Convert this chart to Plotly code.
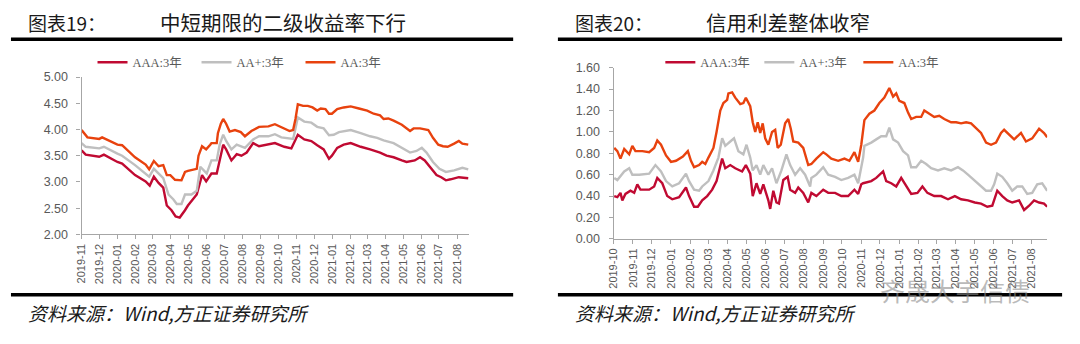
import plotly.graph_objects as go

# ---------------- Left panel: yields (%) ----------------
l_aaa_dates = ["2019-11-01","2019-11-08","2019-12-01","2019-12-09","2020-01-01","2020-01-09","2020-01-31","2020-02-18","2020-02-25","2020-03-03","2020-03-11","2020-03-19","2020-03-25","2020-04-02","2020-04-09","2020-04-16","2020-04-25","2020-04-30","2020-05-15","2020-05-24","2020-05-31","2020-06-09","2020-06-18","2020-06-23","2020-06-29","2020-07-04","2020-07-13","2020-07-22","2020-07-30","2020-08-08","2020-08-19","2020-08-29","2020-09-14","2020-09-25","2020-10-11","2020-10-23","2020-10-29","2020-11-03","2020-11-14","2020-11-26","2020-12-06","2020-12-17","2020-12-26","2020-12-31","2021-01-09","2021-01-20","2021-02-01","2021-02-18","2021-03-06","2021-03-23","2021-04-03","2021-04-15","2021-04-29","2021-05-07","2021-05-21","2021-05-30","2021-06-07","2021-06-16","2021-06-27","2021-07-05","2021-07-13","2021-07-21","2021-08-04","2021-08-20"]
l_aaa_vals = [3.60,3.52,3.48,3.52,3.38,3.35,3.13,3.01,2.93,3.10,2.98,2.89,2.55,2.46,2.34,2.32,2.46,2.55,2.76,3.13,3.01,3.16,3.16,3.44,3.71,3.62,3.41,3.53,3.50,3.56,3.74,3.68,3.71,3.74,3.67,3.64,3.78,3.90,3.81,3.78,3.70,3.62,3.44,3.50,3.65,3.71,3.74,3.67,3.62,3.56,3.50,3.47,3.41,3.38,3.41,3.47,3.41,3.29,3.13,3.09,3.03,3.05,3.09,3.07]

l_aap_dates = ["2019-11-01","2019-11-08","2019-12-01","2019-12-09","2020-01-01","2020-01-09","2020-01-31","2020-02-24","2020-03-03","2020-03-11","2020-03-19","2020-03-28","2020-04-05","2020-04-11","2020-04-19","2020-04-25","2020-05-06","2020-05-15","2020-05-21","2020-05-27","2020-06-01","2020-06-09","2020-06-18","2020-06-23","2020-06-29","2020-07-04","2020-07-13","2020-07-22","2020-07-30","2020-08-05","2020-08-19","2020-08-29","2020-09-14","2020-09-25","2020-10-06","2020-10-17","2020-10-26","2020-10-30","2020-11-03","2020-11-14","2020-11-26","2020-12-06","2020-12-17","2020-12-26","2021-01-03","2021-01-12","2021-02-01","2021-02-18","2021-03-06","2021-03-18","2021-03-29","2021-04-15","2021-04-29","2021-05-13","2021-05-24","2021-06-02","2021-06-10","2021-06-21","2021-07-02","2021-07-13","2021-07-27","2021-08-10","2021-08-20"]
l_aap_vals = [3.74,3.67,3.64,3.67,3.54,3.50,3.32,3.10,3.25,3.16,3.07,2.76,2.67,2.58,2.58,2.76,2.76,2.83,3.29,3.22,3.16,3.41,3.41,3.71,3.90,3.78,3.62,3.71,3.68,3.65,3.81,3.87,3.87,3.91,3.85,3.84,3.82,4.02,4.23,4.15,4.13,4.05,4.02,3.89,3.90,3.95,3.99,3.93,3.87,3.84,3.79,3.74,3.65,3.56,3.59,3.65,3.56,3.38,3.25,3.19,3.22,3.27,3.24]

l_aa_dates = ["2019-11-01","2019-11-11","2019-12-01","2019-12-06","2020-01-01","2020-01-09","2020-01-31","2020-02-18","2020-02-24","2020-03-03","2020-03-11","2020-03-19","2020-03-25","2020-03-31","2020-04-08","2020-04-19","2020-04-25","2020-04-30","2020-05-15","2020-05-18","2020-05-24","2020-05-31","2020-06-07","2020-06-09","2020-06-18","2020-06-20","2020-06-25","2020-06-29","2020-07-04","2020-07-10","2020-07-19","2020-07-29","2020-08-05","2020-08-16","2020-08-29","2020-09-14","2020-09-25","2020-10-11","2020-10-20","2020-10-26","2020-10-30","2020-11-03","2020-11-12","2020-11-20","2020-11-28","2020-12-06","2020-12-12","2020-12-20","2020-12-26","2020-12-31","2021-01-09","2021-01-20","2021-02-01","2021-02-15","2021-03-01","2021-03-12","2021-03-23","2021-03-29","2021-04-06","2021-04-15","2021-04-29","2021-05-13","2021-05-19","2021-05-30","2021-06-13","2021-06-21","2021-06-30","2021-07-08","2021-07-16","2021-07-27","2021-08-04","2021-08-10","2021-08-20"]
l_aa_vals = [3.99,3.85,3.82,3.85,3.71,3.70,3.47,3.33,3.24,3.40,3.30,3.32,3.13,3.13,3.04,3.03,3.19,3.21,3.25,3.50,3.68,3.62,3.71,3.74,3.74,3.93,4.11,4.20,4.11,3.96,3.99,3.95,3.87,3.97,4.05,4.06,4.10,4.02,3.97,3.99,4.20,4.48,4.45,4.45,4.42,4.36,4.40,4.39,4.30,4.30,4.39,4.42,4.44,4.40,4.36,4.30,4.27,4.20,4.21,4.17,4.09,3.97,4.02,4.02,3.99,3.84,3.71,3.68,3.67,3.73,3.78,3.73,3.71]

# ---------------- Right panel: credit spreads (%) ----------------
r_aaa_dates = ["2019-10-02","2019-10-07","2019-10-12","2019-10-15","2019-10-20","2019-10-28","2019-11-03","2019-11-08","2019-11-13","2019-11-27","2019-12-05","2019-12-10","2019-12-18","2019-12-26","2020-01-03","2020-01-14","2020-01-25","2020-01-30","2020-02-07","2020-02-13","2020-02-20","2020-02-28","2020-03-07","2020-03-14","2020-03-23","2020-03-28","2020-04-05","2020-04-13","2020-04-24","2020-04-30","2020-05-07","2020-05-11","2020-05-17","2020-05-23","2020-05-28","2020-06-05","2020-06-08","2020-06-13","2020-06-18","2020-06-22","2020-06-29","2020-07-06","2020-07-10","2020-07-18","2020-07-23","2020-07-31","2020-08-08","2020-08-13","2020-08-21","2020-09-01","2020-09-09","2020-09-20","2020-09-30","2020-10-11","2020-10-21","2020-10-27","2020-11-01","2020-11-04","2020-11-17","2020-11-25","2020-12-06","2020-12-11","2020-12-19","2020-12-27","2021-01-04","2021-01-12","2021-01-20","2021-01-30","2021-02-07","2021-02-15","2021-02-26","2021-03-09","2021-03-20","2021-03-31","2021-04-10","2021-04-21","2021-05-02","2021-05-12","2021-05-22","2021-05-30","2021-06-07","2021-06-15","2021-06-23","2021-07-01","2021-07-12","2021-07-20","2021-07-28","2021-08-05","2021-08-13","2021-08-21","2021-08-26"]
r_aaa_vals = [0.40,0.39,0.43,0.36,0.42,0.45,0.43,0.51,0.46,0.46,0.49,0.57,0.52,0.40,0.37,0.39,0.48,0.40,0.30,0.30,0.36,0.40,0.46,0.54,0.75,0.66,0.69,0.66,0.63,0.69,0.61,0.40,0.52,0.42,0.51,0.36,0.28,0.45,0.34,0.33,0.55,0.58,0.46,0.43,0.48,0.43,0.34,0.43,0.40,0.46,0.43,0.43,0.40,0.40,0.46,0.42,0.51,0.52,0.54,0.57,0.63,0.54,0.52,0.49,0.57,0.49,0.42,0.43,0.49,0.43,0.40,0.40,0.37,0.40,0.37,0.36,0.34,0.33,0.30,0.31,0.45,0.40,0.36,0.34,0.36,0.27,0.31,0.36,0.34,0.33,0.30]

r_aap_dates = ["2019-10-02","2019-10-07","2019-10-18","2019-10-26","2019-10-31","2019-11-11","2019-11-27","2019-12-07","2019-12-16","2019-12-24","2020-01-03","2020-01-14","2020-01-25","2020-01-30","2020-02-07","2020-02-15","2020-02-20","2020-03-01","2020-03-09","2020-03-17","2020-03-23","2020-03-28","2020-04-05","2020-04-11","2020-04-18","2020-04-26","2020-05-01","2020-05-07","2020-05-11","2020-05-17","2020-05-23","2020-05-28","2020-06-05","2020-06-11","2020-06-18","2020-06-26","2020-07-04","2020-07-10","2020-07-18","2020-07-26","2020-08-03","2020-08-11","2020-08-13","2020-08-21","2020-09-01","2020-09-09","2020-09-20","2020-09-30","2020-10-11","2020-10-21","2020-10-27","2020-11-04","2020-11-06","2020-11-17","2020-11-25","2020-12-03","2020-12-11","2020-12-16","2020-12-22","2020-12-30","2021-01-07","2021-01-15","2021-01-20","2021-01-28","2021-02-05","2021-02-13","2021-02-21","2021-03-04","2021-03-14","2021-03-25","2021-04-05","2021-04-13","2021-04-21","2021-05-02","2021-05-12","2021-05-20","2021-05-28","2021-06-02","2021-06-07","2021-06-15","2021-06-23","2021-07-01","2021-07-09","2021-07-17","2021-07-25","2021-08-02","2021-08-10","2021-08-18","2021-08-26"]
r_aap_vals = [0.57,0.55,0.63,0.66,0.60,0.60,0.61,0.69,0.63,0.54,0.49,0.52,0.61,0.54,0.46,0.45,0.49,0.54,0.64,0.76,0.94,0.87,0.91,0.94,0.82,0.79,0.88,0.76,0.64,0.69,0.60,0.69,0.60,0.66,0.52,0.64,0.79,0.69,0.60,0.66,0.60,0.49,0.57,0.60,0.67,0.60,0.58,0.55,0.57,0.60,0.52,0.76,0.87,0.90,0.93,0.96,0.96,1.04,0.93,0.90,0.82,0.78,0.67,0.67,0.73,0.70,0.66,0.64,0.66,0.64,0.67,0.64,0.60,0.54,0.49,0.45,0.45,0.51,0.61,0.58,0.52,0.45,0.49,0.49,0.42,0.43,0.51,0.52,0.45]

r_aa_dates = ["2019-10-02","2019-10-07","2019-10-12","2019-10-18","2019-10-26","2019-10-31","2019-11-05","2019-11-16","2019-11-27","2019-12-05","2019-12-10","2019-12-16","2019-12-24","2020-01-01","2020-01-09","2020-01-20","2020-01-28","2020-02-02","2020-02-07","2020-02-15","2020-02-20","2020-02-25","2020-03-01","2020-03-09","2020-03-14","2020-03-20","2020-03-25","2020-03-31","2020-04-02","2020-04-08","2020-04-13","2020-04-21","2020-04-26","2020-04-30","2020-05-07","2020-05-11","2020-05-15","2020-05-19","2020-05-23","2020-05-27","2020-05-31","2020-06-05","2020-06-11","2020-06-16","2020-06-20","2020-06-25","2020-07-02","2020-07-07","2020-07-11","2020-07-15","2020-07-23","2020-07-31","2020-08-08","2020-08-13","2020-08-21","2020-09-01","2020-09-06","2020-09-14","2020-09-25","2020-10-05","2020-10-13","2020-10-21","2020-10-27","2020-11-01","2020-11-06","2020-11-14","2020-11-22","2020-11-30","2020-12-08","2020-12-16","2020-12-22","2020-12-27","2021-01-01","2021-01-09","2021-01-15","2021-01-20","2021-01-28","2021-02-05","2021-02-10","2021-02-18","2021-02-26","2021-03-06","2021-03-14","2021-03-25","2021-04-02","2021-04-10","2021-04-18","2021-04-26","2021-05-04","2021-05-12","2021-05-20","2021-05-28","2021-06-05","2021-06-13","2021-06-18","2021-06-26","2021-07-04","2021-07-15","2021-07-23","2021-08-02","2021-08-13","2021-08-21","2021-08-26"]
r_aa_vals = [0.85,0.82,0.75,0.84,0.79,0.87,0.82,0.82,0.81,0.85,0.92,0.88,0.78,0.72,0.73,0.77,0.82,0.73,0.67,0.69,0.72,0.70,0.76,0.85,1.00,1.20,1.27,1.30,1.36,1.37,1.32,1.26,1.27,1.32,1.24,1.09,1.00,1.09,0.99,1.08,0.94,0.88,1.00,1.02,0.85,0.88,1.08,1.12,1.03,0.91,0.90,0.85,0.69,0.70,0.75,0.81,0.79,0.75,0.73,0.75,0.73,0.81,0.72,0.88,1.11,1.17,1.20,1.27,1.32,1.41,1.33,1.36,1.29,1.27,1.18,1.12,1.14,1.14,1.20,1.17,1.14,1.15,1.12,1.09,1.09,1.08,1.09,1.08,1.03,0.99,0.90,0.88,0.90,0.99,1.02,0.97,0.93,0.99,0.91,0.94,1.03,0.99,0.95]

series_names = ["AAA:3年", "AA+:3年", "AA:3年"]
colors = ["#C00A32", "#BFBFBF", "#E8420E"]

left_title_no = "图表19："
left_title = "中短期限的二级收益率下行"
right_title_no = "图表20："
right_title = "信用利差整体收窄"
source_text = "资料来源：Wind,方正证券研究所"

left_ticks = ["2019-11","2019-12","2020-01","2020-02","2020-03","2020-04","2020-05","2020-06","2020-07","2020-08","2020-09","2020-10","2020-11","2020-12","2021-01","2021-02","2021-03","2021-04","2021-05","2021-06","2021-07","2021-08"]
right_ticks = ["2019-10"] + left_ticks

W, H = 1080, 344
fig = go.Figure()

left_data = [(l_aaa_dates, l_aaa_vals), (l_aap_dates, l_aap_vals), (l_aa_dates, l_aa_vals)]
right_data = [(r_aaa_dates, r_aaa_vals), (r_aap_dates, r_aap_vals), (r_aa_dates, r_aa_vals)]

for (d, v), name, c in zip(left_data, series_names, colors):
    fig.add_trace(go.Scatter(x=d, y=v, name=name, mode="lines",
                             line=dict(color=c, width=2.4), xaxis="x", yaxis="y", legend="legend"))
for (d, v), name, c in zip(right_data, series_names, colors):
    fig.add_trace(go.Scatter(x=d, y=v, name=name, mode="lines",
                             line=dict(color=c, width=2.4), xaxis="x2", yaxis="y2", legend="legend2"))

axis_col = "#A6A6A6"
tick_font = dict(family="Liberation Sans, Arial", size=12.5, color="#595959")
xtick_font = dict(family="Liberation Sans, Arial", size=11, color="#595959")

def px_x(p):
    return p / W

def px_y(p):
    return 1 - p / H

common_x = dict(type="date", showgrid=False, zeroline=False, showline=True, linecolor=axis_col,
                linewidth=1.2, ticks="outside", ticklen=4, tickcolor=axis_col, tickangle=-90,
                tickfont=xtick_font, tickformat="%Y-%m", fixedrange=True)
common_y = dict(showgrid=False, zeroline=False, showline=True, linecolor=axis_col, linewidth=1.2,
                ticks="outside", ticklen=4, tickcolor=axis_col, tickfont=tick_font,
                tickformat=".2f", fixedrange=True, ticklabelstandoff=6)

legend_font = dict(family="Liberation Serif, Times New Roman, Noto Sans CJK SC", size=12.5, color="#595959")

fig.update_layout(
    width=W, height=H,
    margin=dict(l=0, r=0, t=0, b=0),
    paper_bgcolor="white", plot_bgcolor="white",
    xaxis=dict(common_x, domain=[px_x(76), px_x(466)], range=["2019-11-01", "2021-08-22"],
               tickvals=[t + "-01" for t in left_ticks], ticktext=left_ticks, anchor="y"),
    yaxis=dict(common_y, domain=[px_y(237), px_y(73)], range=[2, 5], dtick=0.5, tick0=2, anchor="x"),
    xaxis2=dict(common_x, domain=[px_x(611), px_x(1047)], range=["2019-10-01", "2021-08-26"],
                tickvals=[t + "-01" for t in right_ticks], ticktext=right_ticks, anchor="y2"),
    yaxis2=dict(common_y, domain=[px_y(241.7), px_y(63.3)], range=[0, 1.6], dtick=0.2, tick0=0, anchor="x2"),
    legend=dict(orientation="h", x=px_x(87), y=px_y(58), xanchor="left", yanchor="middle",
                font=legend_font, entrywidth=59, entrywidthmode="pixels",
                bgcolor="rgba(0,0,0,0)", itemclick=False),
    legend2=dict(orientation="h", x=px_x(658), y=px_y(58), xanchor="left", yanchor="middle",
                 font=legend_font, entrywidth=54, entrywidthmode="pixels",
                 bgcolor="rgba(0,0,0,0)", itemclick=False),
    showlegend=True,
)

title_font = dict(family="Noto Sans CJK SC", size=19, color="#1a1a1a")
src_font = dict(family="Noto Sans CJK SC", size=19, color="#1a1a1a")
anns = [
    dict(text=left_title_no, x=px_x(20), y=px_y(16), xanchor="left", yanchor="middle", font=title_font),
    dict(text=left_title, x=px_x(153), y=px_y(16), xanchor="left", yanchor="middle", font=dict(title_font, size=20.5)),
    dict(text=right_title_no, x=px_x(570), y=px_y(16), xanchor="left", yanchor="middle", font=title_font),
    dict(text=right_title, x=px_x(702), y=px_y(16), xanchor="left", yanchor="middle", font=dict(title_font, size=20.5)),
    dict(text="<i>" + source_text + "</i>", x=px_x(20), y=px_y(318), xanchor="left", yanchor="middle", font=src_font),
    dict(text="<i>" + source_text + "</i>", x=px_x(570), y=px_y(318), xanchor="left", yanchor="middle", font=src_font),
    dict(text="齐晟大宇信债", x=px_x(877), y=px_y(295), xanchor="left", yanchor="middle",
         font=dict(family="Noto Sans CJK SC", size=25, color="rgba(140,140,140,0.6)")),
]
for a in anns:
    a.update(xref="paper", yref="paper", showarrow=False)
fig.update_layout(annotations=anns)

rules = [(5, 510, 33.5), (555, 1062, 33.5), (5, 510, 300), (555, 1062, 300)]
shapes = []
for x0, x1, yy in rules:
    shapes.append(dict(type="line", xref="paper", yref="paper", x0=px_x(x0), x1=px_x(x1),
                       y0=px_y(yy), y1=px_y(yy), line=dict(color="black", width=3.5)))
fig.update_layout(shapes=shapes)

fig.write_html("out.html", config={"displayModeBar": False})
